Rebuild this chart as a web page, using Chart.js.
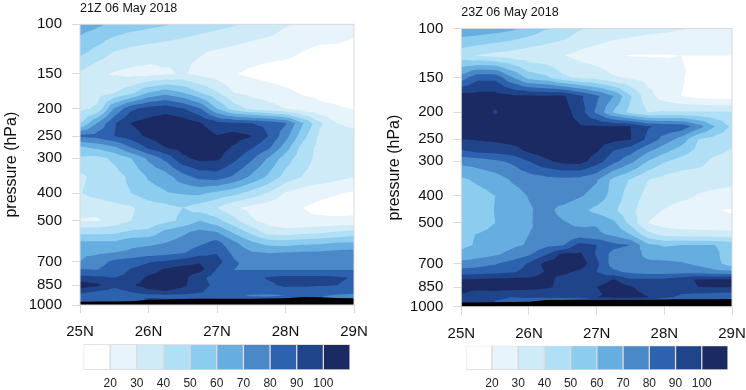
<!DOCTYPE html>
<html>
<head>
<meta charset="utf-8">
<script src="https://cdn.jsdelivr.net/npm/chart.js@4"></script>
<style>
html, body { margin: 0; padding: 0; background: #fff; }
canvas { position: absolute; }
</style>
</head>
<body>
<canvas id="leftPlot" style="left:0;top:0;width:373px;height:345px" width="373" height="345"></canvas>
<canvas id="rightPlot" style="left:373px;top:0;width:373px;height:345px" width="373" height="345"></canvas>
<canvas id="leftBar" style="left:0;top:335px;width:373px;height:55px" width="373" height="55"></canvas>
<canvas id="rightBar" style="left:373px;top:335px;width:373px;height:55px" width="373" height="55"></canvas>
<script>
const lats = [25, 25.25, 25.5, 25.75, 26, 26.25, 26.5, 26.75, 27, 27.25, 27.5, 27.75, 28, 28.25, 28.5, 28.75, 29];
const pressures = [100, 125, 150, 175, 200, 225, 250, 275, 300, 350, 400, 450, 500, 550, 600, 650, 700, 750, 800, 850, 900, 925, 950, 1000];
const pressureTicks = [100, 150, 200, 250, 300, 400, 500, 700, 850, 1000];
const latTicks = [25, 26, 27, 28, 29];
const levels = [20, 30, 40, 50, 60, 70, 80, 90, 100];
const bandColors = ['#ffffff', '#e8f4fb', '#d0ebf8', '#b1e0f6', '#8ccdef', '#66ade0', '#4a88c7', '#2c62ae', '#1f4489', '#1b2a63'];

// one row per pressure level, one column per latitude
const leftRh = [
    [65, 62, 58, 55, 53, 51, 48, 45, 43, 41, 38, 35, 31, 28, 26, 25, 23],
    [53, 47, 40, 37, 35, 33.5, 32, 31, 29, 27, 25, 24, 23, 20, 18, 18, 17],
    [38.5, 32, 29, 27, 26.5, 28.5, 31, 27, 24.5, 20.5, 18, 16, 15, 14, 14, 13, 13],
    [33, 35, 39.5, 47, 60, 66, 60, 50, 41, 30, 27, 25, 22, 19, 18, 17, 15],
    [37.5, 42, 71, 88, 94, 96.5, 91, 81, 60, 45, 38, 34, 30, 25, 22, 21, 19.7],
    [50, 70, 89, 100.5, 104, 106, 106, 101, 93, 91, 90, 87, 81, 61, 42, 30, 27],
    [82, 84, 90, 96, 102, 106, 107, 106, 100.5, 104, 100.5, 90, 74, 54, 38, 36, 34],
    [58, 62, 68, 80, 92, 100, 104, 105, 104, 99, 91, 82, 65, 46, 37, 36, 35],
    [48, 47, 52, 60, 72, 83, 98, 103, 102, 93, 82, 69, 55, 44, 37, 36, 35],
    [38, 43, 46, 52, 61, 65, 76, 83, 85, 78, 68, 58, 46, 39.5, 36, 33, 30],
    [39.5, 44, 47, 50, 56, 59, 61, 62, 57, 53, 46, 39, 29, 24.5, 22, 20.5, 18.5],
    [32, 33, 36, 39, 44, 47, 50, 45, 40, 31.5, 27, 24, 22, 20, 18, 17, 17],
    [29.5, 29, 34, 40, 43, 47, 52, 60, 53, 43, 31.5, 26, 23, 21, 21.5, 21.5, 22],
    [47, 47, 48, 52, 53, 63, 68, 73, 70, 58, 47, 35, 34, 36, 38, 41, 43],
    [62, 62, 62, 67, 68, 70, 74, 78, 83, 72, 62, 56, 55, 57, 58, 60, 61],
    [68, 68, 70, 72, 74, 76, 79, 85, 89, 77, 71, 69.5, 70, 71, 71.5, 73, 74],
    [70, 76, 82, 85, 89, 91, 95, 99, 94, 81, 76, 76, 76, 76, 76, 76, 76],
    [81, 80, 84, 91, 95, 102, 105, 103, 89, 80, 80, 80, 80, 80, 80, 80, 80],
    [94, 92, 90, 93, 102, 105, 103, 93, 85, 83, 87, 91, 93, 93, 93, 92, 89],
    [106, 102, 93, 99, 104, 105, 102, 94, 87, 84, 86, 88, 92, 92, 91, 90, 87],
    [93, 88, 85, 90, 97, 99, 96, 91, 85, 85, 84, 84, 84, 83, 83, 82, 82],
    [85, 84, 84, 85, 86, 87, 86, 84, 83, 82, 79, 78, 80, 81, 81, 79, 78],
    [85, 87, 85, 87, 91, 90, 90, 90, 90, 86, 84, 84, 85, 85, 80, 76, 76],
    [85, 87, 85, 87, 91, 90, 90, 90, 90, 86, 84, 84, 85, 85, 80, 76, 76]
];
const rightRh = [
    [68, 67, 65, 62, 57, 51, 47, 41, 38, 37, 35, 33, 32, 30.5, 29, 28, 27],
    [43, 39.5, 37, 35, 33, 32, 30.5, 27, 25, 20.8, 19.6, 19.5, 19.6, 20, 20, 20, 20],
    [75, 87, 87, 71, 56, 52, 42, 38, 36, 31, 29, 26, 24, 21, 16, 15, 15],
    [104, 104, 104, 102, 101.5, 101, 101.5, 92, 82, 70, 51, 34, 25, 20, 17, 16, 16],
    [105, 105, 99.2, 105, 105, 105, 105, 95, 78, 59, 47, 40, 41, 41, 41, 41, 41],
    [105, 105, 105, 105, 105, 105, 105, 101, 101, 100.5, 100, 91, 88, 87, 75, 60, 48],
    [100, 101, 102, 104, 105, 105, 105, 105, 104, 103, 100.5, 88, 76, 66, 50, 46, 44],
    [89, 93, 94, 96, 102, 106, 106, 106, 101, 90, 84, 72, 63, 55, 47, 43, 39],
    [73, 75, 78, 82, 90, 98, 103, 104, 95, 83, 73, 60, 51, 46, 44, 37, 35],
    [58, 62, 65, 71, 74, 76, 77, 76, 71, 57, 49, 40.5, 36, 34, 33, 33, 32],
    [53, 56, 60, 66, 70.5, 73, 75, 71, 66, 56, 45, 37, 35, 33, 29.5, 28, 27],
    [51.5, 53, 60.5, 65, 69, 73, 67, 63, 57, 52, 43, 34, 29.5, 25, 23, 20.5, 19],
    [52, 54, 60, 65, 69, 74, 71, 68, 69, 62, 47, 30, 25, 23, 23, 23, 23],
    [58, 60.5, 64, 67, 70, 71, 72, 74, 72, 68, 60, 44, 37, 36, 35, 34, 33.5],
    [58, 61, 65, 68, 71, 77, 79, 94, 90, 83, 80, 62, 59, 60, 60, 60, 57],
    [62, 66, 69, 73, 79, 90, 103, 102, 89, 76, 74, 68, 64, 65, 63, 62, 54],
    [74, 76, 79, 84, 91, 103, 106, 106, 92, 75, 74, 72, 73, 71, 68, 63, 55],
    [84, 85, 87, 89, 93, 101, 102, 98, 90, 82, 78, 76, 76, 76, 76, 73, 72],
    [100.5, 102, 103, 103, 103, 103, 97, 95, 92, 101, 92, 92, 92, 97, 101, 102, 102],
    [103, 104, 104, 104, 104, 102, 97, 95, 100, 106, 101, 95, 92, 97, 100, 100.5, 100.5],
    [100, 96, 97, 95, 94, 93, 92, 92, 98, 104, 103, 99, 92, 90, 89, 88, 87],
    [99, 92, 92, 90, 91, 91, 91, 91, 100, 102, 102, 100.5, 91, 89, 87, 87, 84],
    [91, 91, 90, 88, 86, 84, 84, 84, 84, 84, 84, 84, 84, 83, 83, 82, 82],
    [91, 91, 90, 88, 86, 84, 84, 84, 84, 84, 84, 84, 84, 83, 83, 82, 82]
];
// ground level (black mask) in hPa
const leftSurface = [973, 972, 971, 969, 958, 955, 952, 950, 950, 950, 950, 949, 947, 937, 939, 944, 947];
const rightSurface = [965, 965, 964, 962, 960, 947, 946, 945, 945, 945, 945, 944, 943, 940, 940, 940, 939];

const FONT = '"Liberation Sans", Arial, sans-serif';
const GREY = '#d9d9d9';

// clip a polygon to the part where value >= level
function clipPoly(pts, level) {
    const out = [];
    for (let i = 0; i < pts.length; i++) {
        const a = pts[i];
        const b = pts[(i + 1) % pts.length];
        if (a[2] >= level) out.push(a);
        if ((a[2] >= level) !== (b[2] >= level)) {
            const t = (level - a[2]) / (b[2] - a[2]);
            out.push([a[0] + (b[0] - a[0]) * t, a[1] + (b[1] - a[1]) * t, level]);
        }
    }
    return out;
}

const contourPlugin = {
    id: 'contours',
    beforeDatasetsDraw(chart, args, opts) {
        const { ctx, chartArea, scales } = chart;
        const grid = opts.grid;
        const px = lats.map(v => scales.x.getPixelForValue(v));
        const py = pressures.map(v => scales.y.getPixelForValue(v));
        ctx.save();
        ctx.beginPath();
        ctx.rect(chartArea.left, chartArea.top, chartArea.width, chartArea.height);
        ctx.clip();
        ctx.fillStyle = bandColors[0];
        ctx.fillRect(chartArea.left, chartArea.top, chartArea.width, chartArea.height);
        levels.forEach((level, n) => {
            ctx.beginPath();
            for (let j = 0; j < pressures.length - 1; j++) {
                for (let i = 0; i < lats.length - 1; i++) {
                    const a = [px[i], py[j], grid[j][i]];
                    const b = [px[i + 1], py[j], grid[j][i + 1]];
                    const c = [px[i + 1], py[j + 1], grid[j + 1][i + 1]];
                    const d = [px[i], py[j + 1], grid[j + 1][i]];
                    const m = [(a[0] + b[0]) / 2, (a[1] + d[1]) / 2, (a[2] + b[2] + c[2] + d[2]) / 4];
                    [[a, b, m], [b, c, m], [c, d, m], [d, a, m]].forEach(tri => {
                        const poly = clipPoly(tri, level);
                        if (poly.length < 3) return;
                        ctx.moveTo(poly[0][0], poly[0][1]);
                        poly.slice(1).forEach(p => ctx.lineTo(p[0], p[1]));
                        ctx.closePath();
                    });
                }
            }
            ctx.fillStyle = bandColors[n + 1];
            ctx.fill();
        });
        ctx.restore();
    },
    afterDatasetsDraw(chart) {
        const { ctx, chartArea } = chart;
        ctx.save();
        ctx.strokeStyle = GREY;
        ctx.lineWidth = 1;
        ctx.strokeRect(chartArea.left, chartArea.top, chartArea.width, chartArea.height);
        ctx.restore();
    }
};

function makePanel(id, title, grid, surface, box) {
    new Chart(document.getElementById(id), {
        type: 'line',
        data: {
            datasets: [{
                data: lats.map((lat, i) => ({ x: lat, y: surface[i] })),
                borderWidth: 0,
                pointRadius: 0,
                tension: 0,
                backgroundColor: '#000000',
                fill: 'start'
            }]
        },
        plugins: [contourPlugin],
        options: {
            responsive: false,
            animation: false,
            layout: { padding: { right: box.right, top: 0, bottom: 0, left: 0 } },
            plugins: {
                legend: { display: false },
                tooltip: { enabled: false },
                contours: { grid: grid },
                title: {
                    display: true,
                    text: title,
                    align: 'start',
                    fullSize: false,
                    color: '#111',
                    font: { family: FONT, size: 12.5, weight: 'normal' },
                    padding: box.titlePadding
                }
            },
            scales: {
                x: {
                    type: 'linear',
                    min: 25,
                    max: 29,
                    afterBuildTicks: scale => { scale.ticks = latTicks.map(v => ({ value: v })); },
                    afterFit: scale => {
                        scale.height = box.xHeight;
                        scale.paddingLeft = 0;
                        scale.paddingRight = 0;
                    },
                    grid: { drawOnChartArea: false, color: GREY, tickLength: 8 },
                    border: { display: false },
                    ticks: {
                        callback: v => v + 'N',
                        color: '#111',
                        padding: 10,
                        maxRotation: 0,
                        autoSkip: false,
                        font: { family: FONT, size: 15 }
                    }
                },
                y: {
                    type: 'logarithmic',
                    reverse: true,
                    min: 100,
                    max: 1000,
                    afterBuildTicks: scale => { scale.ticks = pressureTicks.map(v => ({ value: v })); },
                    afterFit: scale => { scale.width = box.yWidth; },
                    grid: { drawOnChartArea: false, color: GREY, tickLength: 8 },
                    border: { display: false },
                    title: {
                        display: true,
                        text: 'pressure (hPa)',
                        color: '#111',
                        padding: { top: box.yTitleTop, bottom: 0 },
                        font: { family: FONT, size: 16 }
                    },
                    ticks: {
                        callback: v => String(v),
                        color: '#111',
                        padding: 10,
                        autoSkip: false,
                        font: { family: FONT, size: 15 }
                    }
                }
            }
        }
    });
}

function makeColorbar(id, box) {
    const edges = [10].concat(levels, [110]);
    new Chart(document.getElementById(id), {
        type: 'bar',
        data: {
            labels: [''],
            datasets: bandColors.map((color, i) => ({
                data: [[edges[i], edges[i + 1]]],
                backgroundColor: color,
                borderColor: GREY,
                borderWidth: 1,
                borderSkipped: false,
                grouped: false,
                barPercentage: 1,
                categoryPercentage: 1
            }))
        },
        options: {
            indexAxis: 'y',
            responsive: false,
            animation: false,
            layout: { padding: { left: box.left, right: box.right, top: box.top, bottom: 0 } },
            plugins: { legend: { display: false }, tooltip: { enabled: false }, title: { display: false } },
            scales: {
                y: { display: false },
                x: {
                    type: 'linear',
                    min: 10,
                    max: 110,
                    afterBuildTicks: scale => { scale.ticks = levels.map(v => ({ value: v })); },
                    afterFit: scale => { scale.height = 20; },
                    grid: { display: false, drawTicks: false },
                    border: { display: false },
                    ticks: {
                        color: '#222',
                        padding: 6,
                        maxRotation: 0,
                        autoSkip: false,
                        callback: v => String(v),
                        font: { family: FONT, size: 12 }
                    }
                }
            }
        }
    });
}

makePanel('leftPlot', '21Z 06 May 2018', leftRh, leftSurface, {
    right: 19, yWidth: 80, xHeight: 40, yTitleTop: 2.4, titlePadding: { top: 1.5, bottom: 7.8 }
});
makePanel('rightPlot', '23Z 06 May 2018', rightRh, rightSurface, {
    right: 14, yWidth: 88.3, xHeight: 38.3, yTitleTop: 12, titlePadding: { top: 5.5, bottom: 8 }
});
makeColorbar('leftBar', { left: 83.5, right: 23, top: 9.3 });
makeColorbar('rightBar', { left: 92.7, right: 18, top: 10.7 });
</script>
</body>
</html>
